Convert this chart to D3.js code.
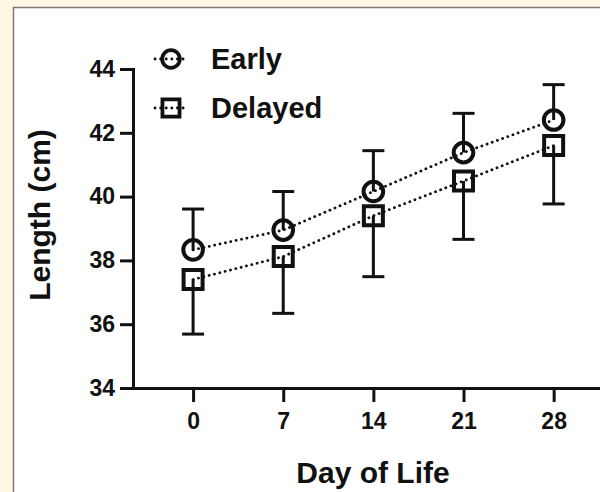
<!DOCTYPE html>
<html>
<head>
<meta charset="utf-8">
<script src="https://cdn.jsdelivr.net/npm/d3@7"></script>
<style>
  html, body { margin: 0; padding: 0; background: #fdf7e3; }
  #chart text { font-family: "Liberation Sans", Arial, Helvetica, sans-serif; font-weight: bold; fill: #111; }
</style>
</head>
<body>
<div id="chart"></div>
<script>
// Data
const days = [0, 7, 14, 21, 28]
const earlyMean = [38.33, 38.95, 40.16, 41.38, 42.40]
const earlyUpper = [39.61, 40.16, 41.44, 42.61, 43.51]
const delayedMean = [37.40, 38.12, 39.40, 40.49, 41.60]
const delayedLower = [35.69, 36.34, 37.49, 38.66, 39.77]
const yTicks = [34, 36, 38, 40, 42, 44]
const seriesNames = ['Early', 'Delayed']

// Dimensions
const dimensions = { width: 600, height: 492 }

const svg = d3.select('#chart')
  .append('svg')
  .attr('width', dimensions.width)
  .attr('height', dimensions.height)

// white panel with grey frame
svg.append('rect')
  .attr('x', 13.5).attr('y', 7.5)
  .attr('width', 640).attr('height', 520)
  .attr('fill', '#fff')
  .attr('stroke', '#7a7a7a')
  .attr('stroke-width', 1.5)

// Scales
const x = d3.scaleLinear().domain([-4.667, 31.6]).range([133, 600])
const y = d3.scaleLinear().domain([34, 44]).range([388, 69])

const ink = '#111'

// Axes
const yAxis = svg.append('g')
  .attr('transform', `translate(${x.range()[0]},0)`)
  .call(d3.axisLeft(y).tickValues(yTicks).tickSize(13).tickSizeOuter(0).tickPadding(5))
const xAxis = svg.append('g')
  .attr('transform', `translate(0,${y.range()[0]})`)
  .call(d3.axisBottom(x).tickValues(days).tickSize(14).tickSizeOuter(0).tickPadding(11))

;[xAxis, yAxis].forEach(a => {
  a.select('.domain').attr('stroke', ink).attr('stroke-width', 3).attr('stroke-linecap', 'square')
  a.selectAll('.tick line').attr('stroke', ink).attr('stroke-width', 3)
  a.selectAll('.tick text').style('font-size', '23px').attr('fill', ink)
})

// axis titles
svg.append('text')
  .attr('transform', 'translate(50,215) rotate(-90)')
  .attr('text-anchor', 'middle')
  .style('font-size', '30px')
  .text('Length (cm)')

svg.append('text')
  .attr('x', 373).attr('y', 483)
  .attr('text-anchor', 'middle')
  .style('font-size', '30px')
  .text('Day of Life')

// Series
const early = days.map((d, i) => ({ day: d, mean: earlyMean[i], err: earlyUpper[i] }))
const delayed = days.map((d, i) => ({ day: d, mean: delayedMean[i], err: delayedLower[i] }))

const line = d3.line().x(d => x(d.day)).y(d => y(d.mean))
const dotted = sel => sel
  .attr('fill', 'none')
  .attr('stroke', ink)
  .attr('stroke-width', 2.8)
  .attr('stroke-linecap', 'round')
  .attr('stroke-dasharray', '0.1 5.4')

const capHalf = 11

function drawSeries(data, shape) {
  const g = svg.append('g')
  g.append('path').datum(data).attr('d', line).call(dotted)

  // error bars: from centre to cap
  g.selectAll('line.bar')
    .data(data)
    .join('line')
    .attr('x1', d => x(d.day)).attr('x2', d => x(d.day))
    .attr('y1', d => y(d.mean)).attr('y2', d => y(d.err))
    .attr('stroke', ink).attr('stroke-width', 3)
  g.selectAll('line.cap')
    .data(data)
    .join('line')
    .attr('x1', d => x(d.day) - capHalf).attr('x2', d => x(d.day) + capHalf)
    .attr('y1', d => y(d.err)).attr('y2', d => y(d.err))
    .attr('stroke', ink).attr('stroke-width', 3)

  g.selectAll('.marker')
    .data(data)
    .join('path')
    .attr('transform', d => `translate(${x(d.day)},${y(d.mean)})`)
    .attr('d', shape)
    .attr('fill', 'none')
    .attr('stroke', ink)
    .attr('stroke-width', 4)
}

const circleShape = 'M9.8,0A9.8,9.8 0 1,1 -9.8,0A9.8,9.8 0 1,1 9.8,0Z'
const squareShape = 'M-9.5,-9.5H9.5V9.5H-9.5Z'

drawSeries(early, circleShape)
drawSeries(delayed, squareShape)

// Legend
const legend = svg.append('g')
const legendY = [59, 108]
const shapes = [circleShape, squareShape]
seriesNames.forEach((name, i) => {
  const row = legend.append('g').attr('transform', `translate(171,${legendY[i]})`)
  row.append('line').attr('x1', -16).attr('x2', 17).attr('y1', 0).attr('y2', 0).call(dotted)
    .attr('stroke-dasharray', '0.1 5.5')
  row.append('path').attr('d', shapes[i])
    .attr('transform', 'scale(0.9)')
    .attr('fill', 'none').attr('stroke', ink).attr('stroke-width', 4.2)
  row.append('text')
    .attr('x', 40).attr('y', 10)
    .style('font-size', '29px')
    .text(name)
})
</script>
</body>
</html>
